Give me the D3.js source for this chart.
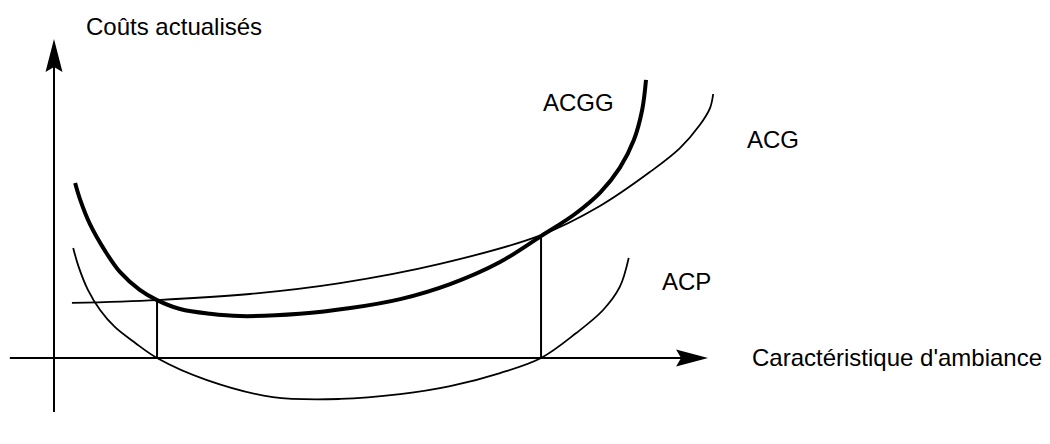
<!DOCTYPE html>
<html>
<head>
<meta charset="utf-8">
<script src="https://cdn.jsdelivr.net/npm/d3@7"></script>
<style>
  body { margin: 0; background: #fff; }
  svg { display: block; }
  text { font-family: "Liberation Sans", Arial, Helvetica, sans-serif; font-size: 24px; fill: #000; }
</style>
</head>
<body>
<svg id="chart" width="1050" height="444"></svg>
<script>
// curve points, abstract units (x: caractéristique, y: coût)
const acggX = [0.33, 0.41, 0.56, 0.80, 1.03, 1.34, 1.61, 1.97, 2.44, 2.91, 3.84, 4.63, 5.41, 6.19, 6.97, 7.61, 8.14, 8.53, 8.84, 9.06, 9.19, 9.25];
const acggY = [5.47, 4.94, 4.19, 3.34, 2.69, 2.13, 1.81, 1.53, 1.38, 1.31, 1.38, 1.56, 1.84, 2.31, 3.00, 3.81, 4.50, 5.16, 5.94, 6.81, 7.75, 8.69];

const acgX = [0.28, 1.61, 3.06, 4.47, 6.03, 7.61, 8.53, 9.31, 9.78, 10.09, 10.25, 10.30];
const acgY = [1.72, 1.81, 2.00, 2.34, 2.94, 3.84, 4.75, 5.81, 6.56, 7.28, 7.81, 8.25];

const acpX = [0.30, 0.38, 0.53, 0.72, 0.95, 1.27, 1.61, 2.39, 3.42, 4.47, 5.41, 6.19, 6.97, 7.61, 8.16, 8.58, 8.84, 8.98];
const acpY = [3.44, 2.88, 2.13, 1.50, 0.97, 0.47, 0.00, -0.69, -1.22, -1.28, -1.13, -0.88, -0.47, 0.00, 0.78, 1.50, 2.22, 3.13];

// intersections ACGG / ACG
const optX = [1.61, 7.61];
const optY = [1.81, 3.81];

const curveNames = ["ACGG", "ACG", "ACP"];
const axisTitles = ["Caractéristique d'ambiance", "Coûts actualisés"];

const x = d3.scaleLinear().domain([0, 10]).range([54, 694]);
const y = d3.scaleLinear().domain([0, 10]).range([358, 38]);

const svg = d3.select('#chart');

const line = d3.line()
    .x(d => x(d[0]))
    .y(d => y(d[1]))
    .curve(d3.curveCatmullRom.alpha(0.5));

const zip = (xs, ys) => xs.map((v, i) => [v, ys[i]]);

// axes
const xStart = -0.69, xEnd = 10.22;
const yStart = -1.69, yEnd = 9.97;

svg.append('line')
    .attr('x1', x(xStart)).attr('x2', x(xEnd) - 20)
    .attr('y1', y(0)).attr('y2', y(0))
    .attr('stroke', '#000').attr('stroke-width', 2);

svg.append('line')
    .attr('x1', x(0)).attr('x2', x(0))
    .attr('y1', y(yStart)).attr('y2', y(yEnd) + 20)
    .attr('stroke', '#000').attr('stroke-width', 2);

// arrow heads
const tx = x(xEnd), ty = y(0);
svg.append('path')
    .attr('d', `M${tx},${ty} L${tx - 32},${ty - 8.5} L${tx - 27},${ty} L${tx - 32},${ty + 8.5} Z`)
    .attr('fill', '#000');

const ax = x(0), ay = y(yEnd);
svg.append('path')
    .attr('d', `M${ax},${ay} L${ax - 8.5},${ay + 33} L${ax},${ay + 28} L${ax + 8.5},${ay + 33} Z`)
    .attr('fill', '#000');

// vertical drop lines
svg.selectAll('.drop')
    .data(zip(optX, optY))
    .enter()
    .append('line')
    .classed('drop', true)
    .attr('x1', d => x(d[0])).attr('x2', d => x(d[0]))
    .attr('y1', d => y(d[1])).attr('y2', y(0))
    .attr('stroke', '#000').attr('stroke-width', 2);

// curves
const curves = [
    {pts: zip(acggX, acggY), w: 4},
    {pts: zip(acgX, acgY), w: 1.8},
    {pts: zip(acpX, acpY), w: 1.8}
];

svg.selectAll('.curve')
    .data(curves)
    .enter()
    .append('path')
    .classed('curve', true)
    .attr('d', d => line(d.pts))
    .attr('fill', 'none')
    .attr('stroke', '#000')
    .attr('stroke-width', d => d.w)
    .attr('stroke-linecap', 'butt');

// labels
svg.append('text').attr('x', 543).attr('y', 111).text(curveNames[0]);
svg.append('text').attr('x', 747).attr('y', 148).text(curveNames[1]);
svg.append('text').attr('x', 662).attr('y', 290).text(curveNames[2]);

svg.append('text').attr('x', 752).attr('y', y(0) + 8).text(axisTitles[0]);
svg.append('text').attr('x', 86).attr('y', 35).text(axisTitles[1]);
</script>
</body>
</html>
